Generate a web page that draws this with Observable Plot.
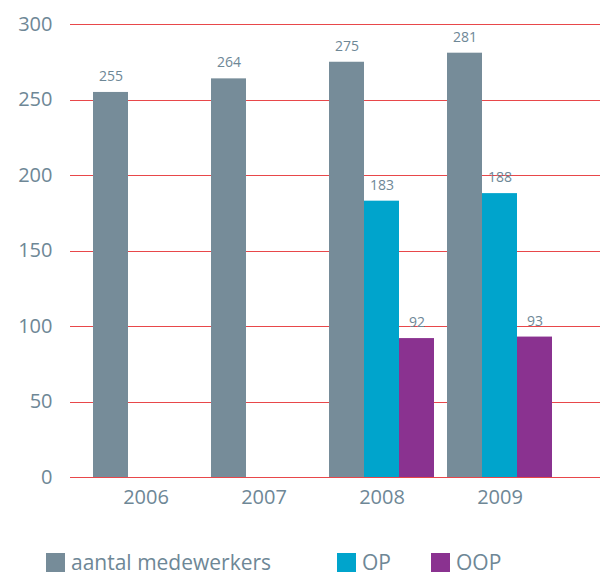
<!DOCTYPE html>
<html>
<head>
<meta charset="utf-8">
<script src="https://cdn.jsdelivr.net/npm/d3@7"></script>
<script src="https://cdn.jsdelivr.net/npm/@observablehq/plot@0.6"></script>
<style>
  html, body { margin: 0; padding: 0; background: #fff; }
  #chart { position: relative; width: 601px; height: 576px; font-family: "Open Sans", sans-serif; }
  #legend { position: absolute; left: 0; top: 540px; width: 601px; height: 36px; }
  .item { position: absolute; top: 12px; display: flex; align-items: center; font-size: 21px; color: #6e8796; line-height: 20px; height: 20px; }
  .sw { width: 19px; height: 19px; margin-right: 6px; }
</style>
</head>
<body>
<div id="chart"></div>
<script>
const years = ["2006", "2007", "2008", "2009"];
const series = ["aantal medewerkers", "OP", "OOP"];
const medewerkers = [255, 264, 275, 281];
const op = [null, null, 183, 188];
const oop = [null, null, 92, 93];
const yTicks = [0, 50, 100, 150, 200, 250, 300];
const colors = ["#768c99", "#00a4cc", "#8a3290"];

const rows = [];
years.forEach((year, i) => {
  [medewerkers, op, oop].forEach((arr, j) => {
    if (arr[i] != null) rows.push({year, series: series[j], value: arr[i]});
  });
});

const textColor = "#6e8796";

const plot = Plot.plot({
  width: 601,
  height: 530,
  marginLeft: 70,
  marginRight: 0,
  marginTop: 24,
  marginBottom: 53,
  style: {fontFamily: "'Open Sans', sans-serif", fontSize: "20px", color: textColor, background: "white"},
  facet: {data: rows, x: "year"},
  fx: {domain: years, paddingInner: 0.095, paddingOuter: 0.292, align: 0.32, label: null, axis: "bottom", tickSize: 0, tickPadding: 12},
  x: {domain: series, padding: 0, axis: null},
  y: {domain: [0, 300], ticks: yTicks, tickSize: 0, tickPadding: 40, label: null},
  color: {domain: series, range: colors},
  marks: [
    Plot.ruleY(yTicks, {stroke: "#e8474a", strokeWidth: 1, insetLeft: -22, insetRight: -47, shapeRendering: "crispEdges"}),
    Plot.barY(rows, {x: "series", y: "value", fill: "series"}),
    Plot.text(rows, {x: "series", y: "value", text: d => String(d.value), dy: -16, fill: textColor, fontSize: 14})
  ]
});
const chart = document.getElementById("chart");
chart.appendChild(plot);

const legend = document.createElement("div");
legend.id = "legend";
const lefts = [46, 337, 431];
series.forEach((s, i) => {
  const item = document.createElement("div");
  item.className = "item";
  item.style.left = lefts[i] + "px";
  const sw = document.createElement("div");
  sw.className = "sw";
  sw.style.background = colors[i];
  const t = document.createElement("span");
  t.textContent = s;
  item.appendChild(sw);
  item.appendChild(t);
  legend.appendChild(item);
});
chart.appendChild(legend);
</script>
</body>
</html>
